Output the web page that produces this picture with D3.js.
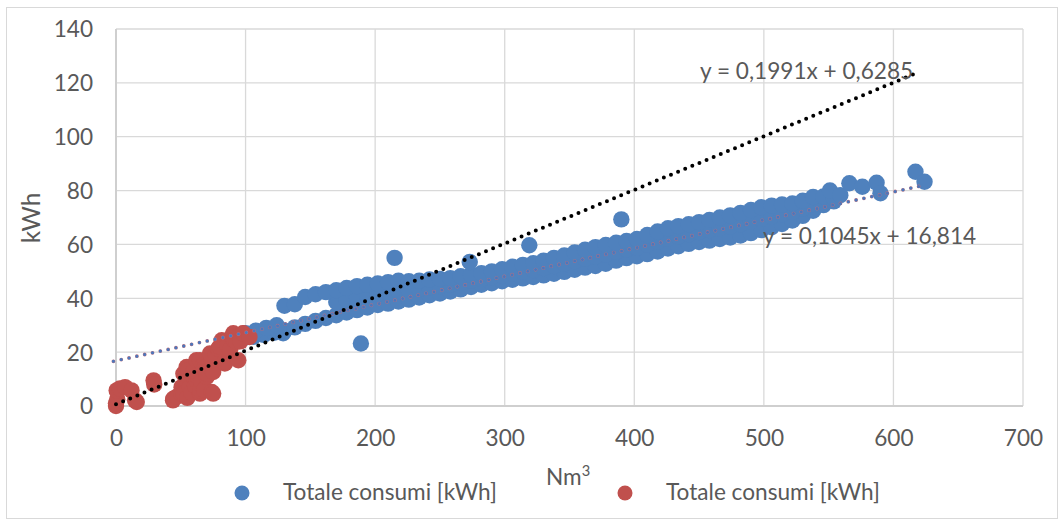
<!DOCTYPE html>
<html><head><meta charset="utf-8">
<script src="https://cdn.jsdelivr.net/npm/d3@7"></script>
<style>html,body{margin:0;padding:0;background:#fff;}svg{display:block;}</style>
</head><body>
<svg id="chart" width="1064" height="522"></svg>
<script>
// ---------- data ----------
const xTicks = [0, 100, 200, 300, 400, 500, 600, 700];
const yTicks = [0, 20, 40, 60, 80, 100, 120, 140];
const xTitle = "Nm";
const yTitle = "kWh";
const seriesNames = ["Totale consumi [kWh]", "Totale consumi [kWh]"];

// blue series: upper edge of the point cloud
const blueUpper = [[100,27],[108,28],[116,29],[124,30],[130,37.2],[138,37.8],[146,40.5],[154,41.5],[162,42.3],[170,43],[178,43.8],[186,44.5],[194,45],[202,45.5],[210,46],[218,46.5],[226,46.3],[234,46.5],[242,47],[250,47.2],[258,47.5],[266,48.2],[274,48.8],[282,49.3],[290,50],[298,50.8],[306,51.7],[314,52.4],[322,53],[330,54],[338,55],[346,55.9],[354,57],[362,58],[370,59],[378,59.8],[386,60.6],[394,61.3],[402,62],[410,63.5],[418,64.8],[426,66],[434,66.8],[442,67.5],[450,68.3],[458,69.1],[466,70],[474,70.8],[482,71.7],[490,72.8],[498,73.8],[506,74.4],[514,74.8],[522,75.2],[530,76.2],[538,77.6],[546,77.8],[554,77.2]];
// blue series: middle of the point cloud
const blueMiddle = [[170,38.6],[178,39.4],[186,40.2],[194,40.8],[202,41.5],[210,42],[218,42.6],[226,43],[234,43.4],[242,44],[250,44.5],[258,45],[266,45.7],[274,46.5],[282,47.1],[290,47.8],[298,48.5],[306,49.3],[314,49.9],[322,50.5],[330,51.2],[338,52],[346,52.8],[354,53.8],[362,54.7],[370,55.5],[378,56.3],[386,57.3],[394,58.1],[402,58.8],[410,60],[418,61.1],[426,62.2],[434,63],[442,63.8],[450,64.6],[458,65.3],[466,66],[474,66.7],[482,67.5],[490,68.5],[498,69.5],[506,70.4],[514,71.2],[522,72],[530,73.4],[538,75]];
// blue series: lower edge of the point cloud
const blueLower = [[98,25],[106,25.7],[114,26.4],[122,27.2],[129,27],[130,28],[138,29.2],[146,30.5],[154,31.6],[162,32.7],[170,33.7],[178,34.7],[186,35.6],[194,36.6],[202,37.5],[210,38],[218,38.8],[226,39.5],[234,40.3],[242,41.1],[250,41.8],[258,42.5],[266,43.3],[274,44.2],[282,45],[290,45.6],[298,46.3],[306,46.9],[314,47.4],[322,47.9],[330,48.5],[338,49.1],[346,49.8],[354,50.6],[362,51.4],[370,52],[378,52.8],[386,54],[394,54.9],[402,55.6],[410,56.4],[418,57.4],[426,58.5],[434,59.3],[442,60.2],[450,60.9],[458,61.4],[466,62],[474,62.6],[482,63.3],[490,64.2],[498,65.3],[506,66.4],[514,67.6],[522,68.9],[530,70.6],[538,72.5],[546,74.6],[554,76]];
// blue series: isolated points
const blueOutliers = [[189,23.2],[215,55],[273,53.5],[319,59.7],[390,69.3],[551,80],[559,78.3],[566,82.7],[576,81.4],[587,82.9],[590,79],[617,87],[624,83.3]];

// red series
const redPoints = [[0,0],[0,1],[1,2.5],[0.5,5.8],[3,6.5],[7,7],[12,5.8],[16,1.5],[14.7,2.1],[29,9.5],[29.5,8],[44,2.1],[44.2,2.7],[47,3.5],[50.6,4.6],[50.6,7],[52,4.6],[55,3],[57,7],[58,5],[52,12],[54.5,14.5],[55.8,13.3],[59.7,10.8],[61,7.5],[62.3,9.5],[63,11],[60,13],[62,17],[64.8,17],[64.8,4.6],[65,5.8],[66,9],[68,6],[67,15],[68,14],[70,10.8],[70,12],[71,15],[73.9,5.2],[75,4.6],[75,12.6],[74,17],[72.5,19.5],[77,19],[79,21.3],[80,22],[81.6,24.4],[84,15.8],[84,16.4],[86,22.5],[88,20.7],[89.3,25.6],[90.5,27],[91,24.5],[93,23.8],[94.4,17],[95,26],[96,24],[98,27],[98.2,26.9],[103,25.6]];

// trendlines (as printed on the chart) and their x extents
const redTrend  = {slope: 0.1991, intercept: 0.6285, from: 0,  to: 619, label: "y = 0,1991x + 0,6285"};
const blueTrend = {slope: 0.1045, intercept: 16.814, from: -2, to: 624, label: "y = 0,1045x + 16,814"};

// ---------- drawing ----------
const svg = d3.select("#chart");
const FONT = "Lato, 'Open Sans', sans-serif";
const TXT = "#595959";
const BLUE = "#4f81bd", RED = "#c0504d";

// fit font size so legend text width matches reference (~214px)
const probe = svg.append("text").attr("font-family", FONT).attr("font-size", 20).text(seriesNames[0]);
const pw = probe.node().getComputedTextLength();
probe.remove();
const FS = 20 * 214 / pw;

svg.append("rect").attr("x", 6.5).attr("y", 7.5).attr("width", 1051).attr("height", 511)
  .attr("fill", "#fff").attr("stroke", "#d9d9d9").attr("stroke-width", 1);

const x = d3.scaleLinear().domain([0, 700]).range([116, 1023]);
const y = d3.scaleLinear().domain([0, 140]).range([406, 29]);

// gridlines
svg.append("g").selectAll("line").data(yTicks).join("line")
  .attr("x1", x(0)).attr("x2", x(700)).attr("y1", d => y(d)).attr("y2", d => y(d))
  .attr("stroke", "#d9d9d9").attr("stroke-width", 1.3);
svg.append("g").selectAll("line").data(xTicks).join("line")
  .attr("y1", y(0)).attr("y2", y(140)).attr("x1", d => x(d)).attr("x2", d => x(d))
  .attr("stroke", "#d9d9d9").attr("stroke-width", 1.3);
// axis lines
svg.append("line").attr("x1", x(0)).attr("x2", x(0)).attr("y1", y(0)).attr("y2", y(140)).attr("stroke", "#cfcfcf").attr("stroke-width", 2);
svg.append("line").attr("x1", x(0)).attr("x2", x(700)).attr("y1", y(0)).attr("y2", y(0)).attr("stroke", "#cfcfcf").attr("stroke-width", 2);

// axes (labels only)
const yAxis = d3.axisLeft(y).tickValues(yTicks).tickSize(0).tickPadding(0);
const gy = svg.append("g").attr("transform", `translate(93,0)`).call(yAxis);
const xAxis = d3.axisBottom(x).tickValues(xTicks).tickSize(0).tickPadding(0);
const gx = svg.append("g").attr("transform", `translate(0,${y(0)})`).call(xAxis);
[gx, gy].forEach(g => {
  g.select(".domain").remove();
  g.selectAll("text").attr("font-family", FONT).attr("font-size", FS).attr("fill", TXT);
});
gy.selectAll("text").attr("dy", "0.35em").attr("x", 0);
gx.selectAll("text").attr("dy", "0.35em").attr("y", 32);

// axis titles
svg.append("text").attr("transform", "translate(40,218) rotate(-90)")
  .attr("text-anchor", "middle").attr("font-family", FONT).attr("font-size", FS * 1.08).attr("fill", TXT).text(yTitle);
const xt = svg.append("text").attr("x", 546).attr("y", 485)
  .attr("font-family", FONT).attr("font-size", FS).attr("fill", TXT);
xt.append("tspan").text(xTitle);
xt.append("tspan").attr("font-size", FS * 0.65).attr("dy", -9).text("3");

// points
const R = 8.2;
const bluePts = blueLower.concat(blueMiddle, blueUpper, blueOutliers);
svg.append("g").selectAll("circle").data(bluePts).join("circle")
  .attr("cx", d => x(d[0])).attr("cy", d => y(d[1])).attr("r", R).attr("fill", BLUE);
svg.append("g").selectAll("circle").data(redPoints).join("circle")
  .attr("cx", d => x(d[0])).attr("cy", d => y(d[1])).attr("r", R).attr("fill", RED);

// trendlines
const line = d3.line().x(d => x(d[0])).y(d => y(d[1]));
function ends(t) { return [[t.from, t.slope * t.from + t.intercept], [t.to, t.slope * t.to + t.intercept]]; }
svg.append("path").attr("d", line(ends(blueTrend))).attr("fill", "none")
  .attr("stroke", "#b87080").attr("stroke-width", 3.8).attr("stroke-linecap", "round").attr("stroke-dasharray", "0 8");
svg.append("path").attr("d", line(ends(blueTrend))).attr("fill", "none")
  .attr("stroke", "#4a78bd").attr("stroke-width", 3.0).attr("stroke-linecap", "round").attr("stroke-dasharray", "0 8");
svg.append("path").attr("d", line(ends(redTrend))).attr("fill", "none")
  .attr("stroke", "#000").attr("stroke-width", 4).attr("stroke-linecap", "round").attr("stroke-dasharray", "0 7.7");

// trend labels
svg.append("text").attr("x", 700).attr("y", 79).attr("font-family", FONT).attr("font-size", FS).attr("fill", TXT).text(redTrend.label);
svg.append("text").attr("x", 763).attr("y", 244).attr("font-family", FONT).attr("font-size", FS).attr("fill", TXT).text(blueTrend.label);

// legend
const legend = [{c: BLUE, x: 242, t: seriesNames[0]}, {c: RED, x: 625, t: seriesNames[1]}];
const lg = svg.append("g");
legend.forEach(l => {
  lg.append("circle").attr("cx", l.x).attr("cy", 493).attr("r", 7.5).attr("fill", l.c);
  lg.append("text").attr("x", l.x + 41).attr("y", 500).attr("font-family", FONT).attr("font-size", FS).attr("fill", TXT).text(l.t);
});
</script>
</body></html>
